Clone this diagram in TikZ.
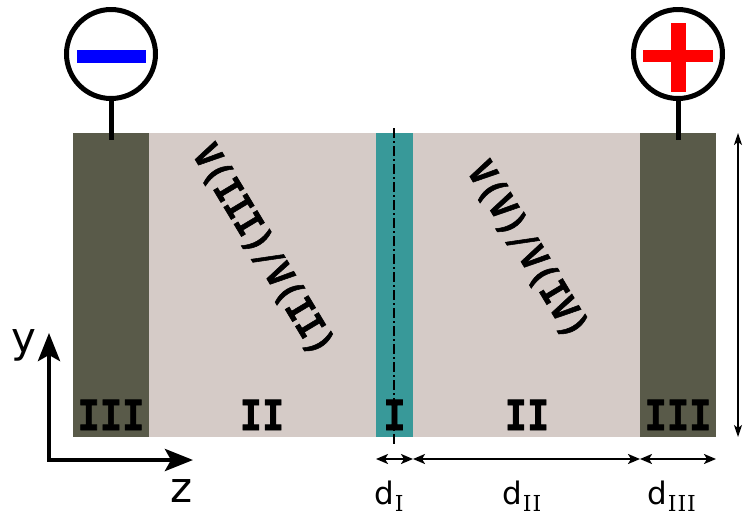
\documentclass[tikz,border=0pt]{standalone}
\usepackage{fontspec}
\usetikzlibrary{arrows.meta}
\newfontfamily\sansf{DejaVu Sans}
\newfontfamily\seriff{DejaVu Serif}
\newfontfamily\monof{DejaVu Sans Mono}[UprightFont={* Bold}, UprightFeatures={FakeBold=1.6}]
\definecolor{elec}{HTML}{595A49}
\definecolor{bulk}{HTML}{D5CBC7}
\definecolor{memb}{HTML}{389999}
\begin{document}
\begin{tikzpicture}[x=1pt,y=-1pt,
  layer/.style={inner sep=0pt, outer sep=0pt, anchor=north west, minimum height=304pt},
  terminal/.style={circle, draw=black, line width=5pt, minimum size=89pt, inner sep=0pt, fill=white},
  stem/.style={line width=5pt},
  reglabel/.style={font=\monof\fontsize{37}{37}\selectfont, anchor=base, inner sep=0pt},
  ratio/.style={font=\monof\fontsize{33}{33}\selectfont, rotate=-59, inner sep=0pt},
  axis/.style={line width=4.5pt, {Stealth[length=28pt,width=22pt,inset=6pt]}-{Stealth[length=28pt,width=22pt,inset=6pt]}},
  axlabel/.style={font=\sansf\fontsize{42}{42}\selectfont, anchor=base, inner sep=0pt},
  dim/.style={line width=2pt, {Stealth[length=12pt,width=10pt,inset=3pt]}-{Stealth[length=12pt,width=10pt,inset=3pt]}},
  dimlabel/.style={font=\sansf\fontsize{31}{31}\selectfont, anchor=base west, inner sep=0pt},
  subs/.style={}]
\useasboundingbox (0,0) rectangle (755,515);
% layers
\node[layer, fill=elec, minimum width=76pt] (elL) at (73,133) {};
\node[layer, fill=bulk, minimum width=227pt] (buL) at (149,133) {};
\node[layer, fill=memb, minimum width=37pt] (mem) at (376,133) {};
\node[layer, fill=bulk, minimum width=227pt] (buR) at (413,133) {};
\node[layer, fill=elec, minimum width=76pt] (elR) at (640,133) {};
% symmetry axis
\coordinate (symT) at (394,128);
\coordinate (symB) at (394,445);
\draw[line width=1.5pt, dash pattern=on 10pt off 3pt on 2pt off 3pt] (symT) -- (symB);
% region labels
\node[reglabel] (lIIIl) at (111,430) {\scalebox{1}[1.12]{III}};
\node[reglabel] (lIIl) at (262,430) {\scalebox{1}[1.12]{II}};
\node[reglabel] (lI) at (394.5,430) {\scalebox{1}[1.12]{I}};
\node[reglabel] (lIIr) at (527,430) {\scalebox{1}[1.12]{II}};
\node[reglabel] (lIIIr) at (678,430) {\scalebox{1}[1.12]{III}};
% ratios
\node[ratio] (rL) at (263,250) {\scalebox{1}[1.12]{V(III)/V(II)}};
\node[ratio] (rR) at (527.5,250) {\scalebox{1}[1.12]{V(V)/V(IV)}};
% terminals
\node[terminal] (neg) at (111,54) {};
\node[terminal] (pos) at (678,54) {};
\fill[blue] (77,50) rectangle (146,63);
\fill[red] (643,50) rectangle (713,62);
\fill[red] (671,23) rectangle (686,92);
\coordinate (negF) at (111,140);
\coordinate (posF) at (678,140);
\draw[stem] (neg.south) -- (negF);
\draw[stem] (pos.south) -- (posF);
% height arrow
\coordinate (hT) at (738,133);
\coordinate (hB) at (738,437);
\draw[line width=1.5pt, {Stealth[length=12pt,width=8pt,inset=3pt]}-{Stealth[length=12pt,width=8pt,inset=3pt]}] (hT) -- (hB);
% axes
\coordinate (O) at (49,460);
\coordinate (yE) at (49,333);
\coordinate (zE) at (193,460);
\draw[axis] (yE) -- (O) -- (zE);
\node[axlabel] (ylab) at (24,352) {y};
\node[axlabel] (zlab) at (182,502) {z};
% dimensions
\coordinate (d0) at (376,459);
\coordinate (d1) at (413,459);
\coordinate (d2) at (640,459);
\coordinate (d3) at (716,459);
\draw[dim] (d0) -- (d1);
\draw[dim] (d1) -- (d2);
\draw[dim] (d2) -- (d3);
\node[dimlabel] (dI) at (374,504) {d\kern1pt\raisebox{-7pt}{\seriff\fontsize{22}{22}\selectfont I}};
\node[dimlabel] (dII) at (502,504) {d\kern1pt\raisebox{-7pt}{\seriff\fontsize{22}{22}\selectfont I\kern1pt I}};
\node[dimlabel] (dIII) at (647,504) {d\kern1pt\raisebox{-7pt}{\seriff\fontsize{22}{22}\selectfont I\kern1pt I\kern1pt I}};
\end{tikzpicture}
\end{document}
